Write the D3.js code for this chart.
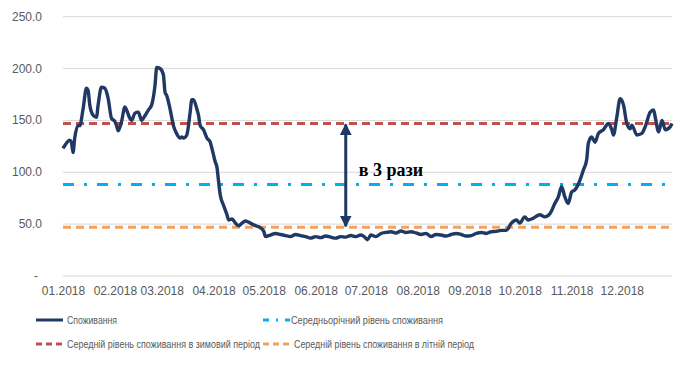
<!DOCTYPE html>
<html>
<head>
<meta charset="utf-8">
<script src="https://cdn.jsdelivr.net/npm/d3@7"></script>
<style>
  body { margin: 0; background: #fff; }
</style>
</head>
<body>
<div class="chart-wrap"></div>
<script>
// дати та значення споживання
const dates = [
  "2018-01-01", "2018-01-03", "2018-01-05", "2018-01-06", "2018-01-07", "2018-01-08", "2018-01-10", "2018-01-11",
  "2018-01-13", "2018-01-15", "2018-01-16", "2018-01-17", "2018-01-19", "2018-01-21", "2018-01-22", "2018-01-24",
  "2018-01-26", "2018-01-28", "2018-01-30", "2018-02-01", "2018-02-02", "2018-02-03", "2018-02-05", "2018-02-07",
  "2018-02-08", "2018-02-10", "2018-02-11", "2018-02-13", "2018-02-15", "2018-02-17", "2018-02-18", "2018-02-21",
  "2018-02-23", "2018-02-25", "2018-02-26", "2018-02-28", "2018-03-02", "2018-03-03", "2018-03-04", "2018-03-06",
  "2018-03-08", "2018-03-10", "2018-03-12", "2018-03-13", "2018-03-14", "2018-03-16", "2018-03-18", "2018-03-19",
  "2018-03-20", "2018-03-22", "2018-03-23", "2018-03-24", "2018-03-26", "2018-03-28", "2018-03-30", "2018-03-31",
  "2018-04-02", "2018-04-03", "2018-04-04", "2018-04-05", "2018-04-07", "2018-04-09", "2018-04-10", "2018-04-12",
  "2018-04-14", "2018-04-16", "2018-04-18", "2018-04-20", "2018-04-23", "2018-04-26", "2018-04-28", "2018-05-01",
  "2018-05-02", "2018-05-05", "2018-05-08", "2018-05-11", "2018-05-14", "2018-05-17", "2018-05-20", "2018-05-23",
  "2018-05-26", "2018-05-29", "2018-06-01", "2018-06-04", "2018-06-07", "2018-06-10", "2018-06-13", "2018-06-16",
  "2018-06-19", "2018-06-22", "2018-06-25", "2018-06-28", "2018-06-30", "2018-07-02", "2018-07-04", "2018-07-07",
  "2018-07-10", "2018-07-13", "2018-07-16", "2018-07-19", "2018-07-22", "2018-07-25", "2018-07-28", "2018-07-31",
  "2018-08-03", "2018-08-06", "2018-08-09", "2018-08-12", "2018-08-15", "2018-08-18", "2018-08-21", "2018-08-24",
  "2018-08-27", "2018-08-30", "2018-09-02", "2018-09-05", "2018-09-08", "2018-09-11", "2018-09-14", "2018-09-17",
  "2018-09-20", "2018-09-23", "2018-09-26", "2018-09-29", "2018-10-01", "2018-10-04", "2018-10-06", "2018-10-09",
  "2018-10-13", "2018-10-16", "2018-10-19", "2018-10-22", "2018-10-24", "2018-10-26", "2018-10-28", "2018-10-30",
  "2018-11-01", "2018-11-03", "2018-11-06", "2018-11-08", "2018-11-10", "2018-11-11", "2018-11-13", "2018-11-15",
  "2018-11-17", "2018-11-20", "2018-11-23", "2018-11-25", "2018-11-26", "2018-11-28", "2018-11-30", "2018-12-02",
  "2018-12-04", "2018-12-06", "2018-12-07", "2018-12-10", "2018-12-13", "2018-12-15", "2018-12-18", "2018-12-20",
  "2018-12-21", "2018-12-23", "2018-12-25", "2018-12-27", "2018-12-30", "2018-12-31"
];
const consumption = [
  123, 128, 131, 129, 119, 133, 145, 145,
  161, 181, 179, 165, 155, 153, 165, 182,
  181, 171, 152, 149, 145, 140, 149, 163,
  160, 152, 150, 157, 158, 150, 152, 160,
  165, 184, 201, 200, 194, 177, 174, 161,
  145, 137, 133, 134, 133, 136, 158, 170,
  170, 161, 155, 145, 141, 133, 129, 123,
  110, 105, 91, 78, 68, 59, 54, 55,
  51, 48.5, 51, 53, 51, 48.5, 47.5, 43,
  38, 39.5, 41, 40, 39, 38, 40, 39,
  38, 36.5, 38, 37, 38.5, 37.5, 36.5, 38,
  37.5, 39, 38, 39.5, 38, 35, 39.5, 38,
  41, 42, 42.7, 41.5, 43.4, 42, 42.7, 41.5,
  40, 41, 38, 40, 39.5, 38.5, 40, 41,
  40, 38.5, 39, 41, 42, 41, 42.7, 43,
  44, 44, 51, 54, 51, 57, 54, 55.6,
  59, 57, 60, 70, 76, 86, 76, 70,
  81, 83, 92.5, 102, 112, 128, 134, 129,
  137.5, 141, 147, 141, 136, 153, 171, 165,
  147, 142, 145.5, 136, 137.5, 144, 158, 160,
  153, 139, 150, 141, 144, 147
];
// середні рівні
const annualAvg = 88.3;
const winterAvg = 147.1;
const summerAvg = 46.9;
// підписи осей
const yTicks = [0, 50, 100, 150, 200, 250];
const monthTicks = ["2018-01-01", "2018-02-01", "2018-03-01", "2018-04-01", "2018-05-01", "2018-06-01",
  "2018-07-01", "2018-08-01", "2018-09-01", "2018-10-01", "2018-11-01", "2018-12-01"];
const legendLabels = [
  "Споживання",
  "Середньорічний рівень споживання",
  "Середній рівень споживання в зимовий період",
  "Середній рівень споживання в літній період"
];
const annotationText = "в 3 рази";
const arrowDate = "2018-06-19";

const parse = d3.timeParse("%Y-%m-%d");
const data = dates.map((d, i) => ({ date: parse(d), value: consumption[i] }));
const sans = "'Liberation Sans', Arial, sans-serif";

const width = 690, height = 366;
const svg = d3
  .select(".chart-wrap")
  .append("svg")
  .attr("width", width)
  .attr("height", height);

const x = d3.scaleTime()
  .domain([parse("2018-01-01"), parse("2018-12-31")])
  .range([63, 672]);
const y = d3.scaleLinear()
  .domain([0, 250])
  .range([276, 16.7]);

// сітка
svg.append("g")
  .selectAll("line")
  .data(yTicks)
  .enter()
  .append("line")
  .attr("x1", 63)
  .attr("x2", 672)
  .attr("y1", d => y(d))
  .attr("y2", d => y(d))
  .attr("stroke", "#d9d9d9")
  .attr("stroke-width", 1);

// підписи осі Y
svg.append("g")
  .selectAll("text")
  .data(yTicks)
  .enter()
  .append("text")
  .attr("x", d => d === 0 ? 38 : 42)
  .attr("y", d => y(d) + 4)
  .attr("text-anchor", "end")
  .style("font-family", sans)
  .style("font-size", "12px")
  .attr("fill", "#595959")
  .text(d => d === 0 ? "-" : d3.format(".1f")(d));

// підписи осі X
const xAxis = d3.axisBottom(x)
  .tickValues(monthTicks.map(parse))
  .tickFormat(d3.timeFormat("%m.%Y"))
  .tickSize(0)
  .tickPadding(10);
const gx = svg.append("g")
  .attr("transform", `translate(0,${y(0)})`)
  .call(xAxis);
gx.select(".domain").remove();
gx.selectAll("text")
  .style("font-size", "12px")
  .style("font-family", sans)
  .attr("fill", "#595959");

// середні рівні
const refLines = [
  { value: winterAvg, color: "#c0504d", dash: "8,5" },
  { value: annualAvg, color: "#00b0f0", dash: "11,10,3,10" },
  { value: summerAvg, color: "#f4a15d", dash: "8,5" }
];
svg.append("g")
  .selectAll("line")
  .data(refLines)
  .enter()
  .append("line")
  .attr("x1", 63)
  .attr("x2", 672)
  .attr("y1", d => y(d.value))
  .attr("y2", d => y(d.value))
  .attr("stroke", d => d.color)
  .attr("stroke-width", 3)
  .attr("stroke-dasharray", d => d.dash);

// лінія споживання
const line = d3.line()
  .x(d => x(d.date))
  .y(d => y(d.value))
  .curve(d3.curveMonotoneX);
svg.append("path")
  .datum(data)
  .attr("d", line)
  .attr("fill", "none")
  .attr("stroke", "#203864")
  .attr("stroke-width", 3.4)
  .attr("stroke-linejoin", "round");

// стрілка
const defs = svg.append("defs");
["start", "end"].forEach(k => {
  defs.append("marker")
    .attr("id", "arrow-" + k)
    .attr("viewBox", "0 0 10 10")
    .attr("refX", 9)
    .attr("refY", 5)
    .attr("markerWidth", 4)
    .attr("markerHeight", 4)
    .attr("orient", k === "start" ? "auto-start-reverse" : "auto")
    .append("path")
    .attr("d", "M0,0 L10,5 L0,10 z")
    .attr("fill", "#203864");
});
const ax = x(parse(arrowDate));
svg.append("line")
  .attr("x1", ax)
  .attr("x2", ax)
  .attr("y1", y(winterAvg) + 1)
  .attr("y2", y(summerAvg) - 1)
  .attr("stroke", "#203864")
  .attr("stroke-width", 3)
  .attr("marker-start", "url(#arrow-start)")
  .attr("marker-end", "url(#arrow-end)");

svg.append("text")
  .attr("x", ax + 13)
  .attr("y", 176)
  .style("font-family", "'Liberation Serif', 'Times New Roman', serif")
  .style("font-weight", "bold")
  .style("font-size", "18px")
  .attr("fill", "#000")
  .text(annotationText);

// легенда
const legendItems = [
  { label: legendLabels[0], color: "#203864", dash: null, x: 36, y: 320, tx: 67, w: 50 },
  { label: legendLabels[1], color: "#00b0f0", dash: "6,7,2,7", x: 263, y: 320, tx: 291, w: 152 },
  { label: legendLabels[2], color: "#c0504d", dash: "6,4", x: 36, y: 344, tx: 67, w: 193 },
  { label: legendLabels[3], color: "#f4a15d", dash: "6,4", x: 263, y: 344, tx: 294, w: 180 }
];
const lg = svg.append("g")
  .selectAll("g")
  .data(legendItems)
  .enter()
  .append("g");
lg.append("line")
  .attr("x1", d => d.x)
  .attr("x2", d => d.x + 27)
  .attr("y1", d => d.y)
  .attr("y2", d => d.y)
  .attr("stroke", d => d.color)
  .attr("stroke-width", 3)
  .attr("stroke-dasharray", d => d.dash);
lg.append("text")
  .attr("x", d => d.tx)
  .attr("y", d => d.y + 4)
  .attr("textLength", d => d.w)
  .attr("lengthAdjust", "spacingAndGlyphs")
  .style("font-family", sans)
  .style("font-size", "11px")
  .attr("fill", "#595959")
  .text(d => d.label);
</script>
</body>
</html>
